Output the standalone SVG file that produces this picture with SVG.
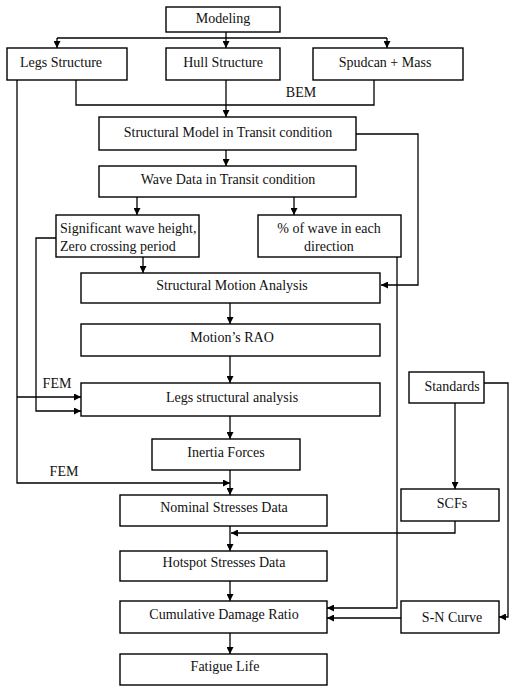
<svg xmlns="http://www.w3.org/2000/svg" width="511" height="686" viewBox="0 0 511 686">
<style>
.box{fill:#fff;stroke:#000;stroke-width:1.4}
.t{font-family:'Liberation Serif','Times New Roman',Times,serif;font-size:14px;fill:#111;text-anchor:middle}
.l{text-anchor:start}
.c{fill:none;stroke:#000;stroke-width:1.3}
</style>
<defs>
<marker id="a" viewBox="0 0 10 10" refX="10" refY="5" markerWidth="7" markerHeight="7" markerUnits="userSpaceOnUse" orient="auto">
<path d="M0,0 L10,5 L0,10 z" fill="#000"/>
</marker>
</defs>
<g id="connectors">
<path class="c" d="M226,32 V38"/>
<path class="c" d="M57,38 H387"/>
<path class="c" d="M57,38 V48" marker-end="url(#a)"/>
<path class="c" d="M226,38 V48" marker-end="url(#a)"/>
<path class="c" d="M387,38 V48" marker-end="url(#a)"/>
<path class="c" d="M76,80 V105 H374 V80"/>
<path class="c" d="M226,80 V117" marker-end="url(#a)"/>
<path class="c" d="M356,134 H418 V285 H381" marker-end="url(#a)"/>
<path class="c" d="M226,150 V166" marker-end="url(#a)"/>
<path class="c" d="M137,197 V215" marker-end="url(#a)"/>
<path class="c" d="M294,197 V215" marker-end="url(#a)"/>
<path class="c" d="M143,257 V273" marker-end="url(#a)"/>
<path class="c" d="M56,238 H36 V411 H81" marker-end="url(#a)"/>
<path class="c" d="M17,80 V483 H230" marker-end="url(#a)"/>
<path class="c" d="M17,397 H81" marker-end="url(#a)"/>
<path class="c" d="M397,257 V608 H327" marker-end="url(#a)"/>
<path class="c" d="M230,303 V324" marker-end="url(#a)"/>
<path class="c" d="M230,356 V383" marker-end="url(#a)"/>
<path class="c" d="M230,416 V439" marker-end="url(#a)"/>
<path class="c" d="M230,470 V495" marker-end="url(#a)"/>
<path class="c" d="M230,526 V551" marker-end="url(#a)"/>
<path class="c" d="M230,581 V601" marker-end="url(#a)"/>
<path class="c" d="M230,633 V654" marker-end="url(#a)"/>
<path class="c" d="M455,403 V489" marker-end="url(#a)"/>
<path class="c" d="M484,383 H508 V617 H499" marker-end="url(#a)"/>
<path class="c" d="M455,521 V533 H231" marker-end="url(#a)"/>
<path class="c" d="M401,618 H327" marker-end="url(#a)"/>
<text class="t" x="301" y="97">BEM</text>
<text class="t" x="57" y="388">FEM</text>
<text class="t" x="64" y="476">FEM</text>
</g>
<g id="modeling"><rect class="box" x="166" y="7" width="114" height="25"/><text class="t" x="223" y="23">Modeling</text></g>
<g id="legs"><rect class="box" x="7" y="48" width="120" height="32"/><text class="t" x="61" y="67">Legs Structure</text></g>
<g id="hull"><rect class="box" x="166" y="48" width="114" height="32"/><text class="t" x="223" y="67">Hull Structure</text></g>
<g id="spudcan"><rect class="box" x="313" y="48" width="150" height="32"/><text class="t" x="385" y="67">Spudcan + Mass</text></g>
<g id="structmodel"><rect class="box" x="99" y="117" width="257" height="33"/><text class="t" x="228" y="137">Structural Model in Transit condition</text></g>
<g id="wavedata"><rect class="box" x="99" y="166" width="257" height="31"/><text class="t" x="228" y="184">Wave Data in Transit condition</text></g>
<g id="sigwave"><rect class="box" x="56" y="215" width="143" height="42"/><text class="t l" x="60" y="233">Significant wave height,</text><text class="t l" x="60" y="251">Zero crossing period</text></g>
<g id="pctwave"><rect class="box" x="258" y="215" width="143" height="42"/><text class="t" x="329" y="233">% of wave in each</text><text class="t" x="329" y="251">direction</text></g>
<g id="motion"><rect class="box" x="81" y="273" width="299" height="30"/><text class="t" x="232" y="290">Structural Motion Analysis</text></g>
<g id="rao"><rect class="box" x="81" y="324" width="299" height="32"/><text class="t" x="232" y="342">Motion’s RAO</text></g>
<g id="legsanalysis"><rect class="box" x="81" y="383" width="299" height="33"/><text class="t" x="232" y="402">Legs structural analysis</text></g>
<g id="inertia"><rect class="box" x="152" y="439" width="148" height="31"/><text class="t" x="226" y="457">Inertia Forces</text></g>
<g id="nominal"><rect class="box" x="120" y="495" width="207" height="31"/><text class="t" x="224" y="512">Nominal Stresses Data</text></g>
<g id="hotspot"><rect class="box" x="120" y="551" width="207" height="30"/><text class="t" x="224" y="567">Hotspot Stresses Data</text></g>
<g id="cdr"><rect class="box" x="120" y="601" width="207" height="32"/><text class="t" x="224" y="619">Cumulative Damage Ratio</text></g>
<g id="fatigue"><rect class="box" x="120" y="654" width="207" height="31"/><text class="t" x="225" y="671">Fatigue Life</text></g>
<g id="standards"><rect class="box" x="409" y="372" width="75" height="31"/><text class="t" x="452" y="391">Standards</text></g>
<g id="scfs"><rect class="box" x="401" y="489" width="98" height="32"/><text class="t" x="452" y="508">SCFs</text></g>
<g id="sncurve"><rect class="box" x="401" y="601" width="98" height="32"/><text class="t" x="452" y="622">S-N Curve</text></g>
</svg>
